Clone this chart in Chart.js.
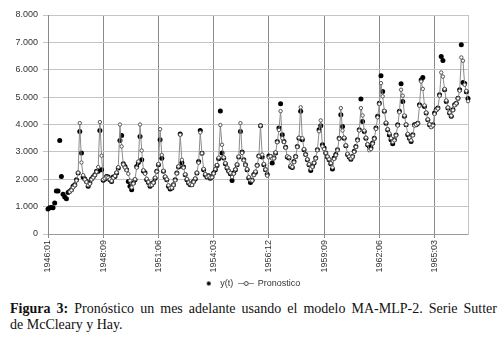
<!DOCTYPE html>
<html>
<head>
<meta charset="utf-8">
<script src="https://cdn.jsdelivr.net/npm/chart.js@4.4.0/dist/chart.umd.min.js"></script>
<style>
  body { margin: 0; background: #fff; }
  #wrap { position: relative; width: 502px; height: 342px; }
  #grafico { position: absolute; left: 0; top: 0; }
  .pie { position: absolute; left: 10px; width: 487px; font-family: "Liberation Serif", serif; font-size: 14px; line-height: 16px; color: #111; white-space: nowrap; }
  #linea1 { top: 301px; text-align: justify; text-align-last: justify; }
  #linea2 { top: 317px; }
</style>
</head>
<body>
<div id="wrap">
  <canvas id="grafico" width="502" height="298"></canvas>
  <div class="pie" id="linea1"><b>Figura 3:</b> Pronóstico un mes adelante usando el modelo MA-MLP-2. Serie Sutter</div>
  <div class="pie" id="linea2">de McCleary y Hay.</div>
</div>
<script>
// etiquetas del eje x (una cada 33 meses)
const tickLabels = ["1946:01", "1948:09", "1951:06", "1954:03", "1956:12", "1959:09", "1962:06", "1965:03"];

// serie observada y(t), 1946-1966 mensual
const serieY = [
  910, 960, 970, 960, 1130, 1570, 1570, 3420, 2100, 1450, 1350, 1290,
  1520, 1560, 1620, 1740, 1800, 1980, 2230, 3745, 2960, 2080, 2010, 1920,
  1740, 1860, 2010, 2080, 2165, 2290, 2290, 3780, 2350, 1960, 2010, 2100,
  2080, 1980, 1920, 2080, 2100, 2230, 2410, 3420, 3600, 2570, 2470, 2350,
  1920, 1740, 1620, 1860, 1980, 2470, 2610, 3560, 2710, 2300, 2240, 1980,
  1885, 1740, 1800, 1885, 2040, 2290, 2530, 3440, 2770, 2290, 2080, 1980,
  1740, 1640, 1680, 1800, 1980, 2230, 2445, 3650, 2600, 2445, 2165, 1980,
  1860, 1800, 1800, 1920, 2010, 2230, 2650, 3780, 2950, 2350, 2165, 2080,
  2130, 2040, 2080, 2230, 2350, 2500, 2750, 4490, 2955, 2775, 2570, 2410,
  2290, 2200, 1950, 2230, 2350, 2530, 2810, 3745, 3000, 2710, 2530, 2350,
  2045, 1880, 1960, 2170, 2260, 2510, 2850, 3950, 2810, 2530, 2350, 2170,
  2850, 2830, 2590, 2775, 2955, 3380, 3870, 4760, 3625, 3380, 3170, 2810,
  2775, 2470, 2430, 2650, 2835, 3200, 3500, 4480, 3440, 3080, 2900, 2710,
  2530, 2320, 2470, 2590, 2775, 3080, 3810, 3950, 3260, 3140, 2955, 2810,
  2710, 2570, 2370, 2775, 2900, 3080, 3500, 4355, 3930, 3500, 3225, 2900,
  2810, 2735, 2835, 3020, 3200, 3440, 3810, 4930, 4110, 3745, 3500, 3260,
  3200, 3140, 3320, 3500, 3870, 4300, 4780, 5780, 5210, 4480, 4050, 3810,
  3620, 3440, 3300, 3440, 3620, 3990, 4480, 5490, 4840, 4300, 3990, 3625,
  3500, 3380, 3625, 3990, 3990, 4050, 4720, 5630, 5720, 4660, 4420, 4170,
  3990, 3930, 3990, 4420, 4540, 4600, 5085, 6480, 6340, 5270, 4840, 4600,
  4420, 4300, 4540, 4720, 4780, 4960, 5270, 6910, 5530, 5500, 5200, 4950
];

// pronostico del modelo (empieza en 1947:02)
const pronostico = [
  null, null, null, null, null, null, null, null, null, null, null, null,
  null, 1540, 1600, 1700, 1780, 1950, 2240, 4050, 2610, 2150, 1990, 1900,
  1780, 1830, 1990, 2060, 2150, 2270, 2445, 4090, 2860, 1990, 2030, 2080,
  2060, 2000, 1940, 2050, 2120, 2250, 2440, 4000, 3200, 2540, 2430, 2330,
  2200, 1950, 1700, 1840, 2000, 2420, 2650, 4000, 3050, 2330, 2200, 2020,
  1900, 1780, 1790, 1870, 2060, 2280, 2560, 3830, 2890, 2310, 2100, 2000,
  1780, 1680, 1690, 1790, 1960, 2210, 2470, 3625, 2710, 2420, 2180, 2010,
  1880, 1820, 1790, 1900, 2030, 2240, 2600, 3710, 2950, 2380, 2190, 2090,
  2110, 2060, 2070, 2210, 2370, 2520, 2790, 3980, 3260, 2800, 2590, 2430,
  2300, 2230, 2080, 2200, 2360, 2540, 2830, 4050, 2960, 2690, 2520, 2370,
  2080, 1960, 1950, 2150, 2280, 2500, 2840, 3960, 2900, 2560, 2360, 2130,
  2800, 2840, 2750, 2760, 2980, 3350, 3800, 4490, 3500, 3360, 3150, 2840,
  2800, 2500, 2450, 2620, 2820, 3180, 3520, 4630, 3500, 3100, 2900, 2730,
  2550, 2380, 2450, 2600, 2760, 3060, 3750, 4150, 3200, 3100, 2960, 2830,
  2730, 2590, 2430, 2740, 2880, 3060, 3480, 4600, 3780, 3520, 3240, 2930,
  2830, 2760, 2820, 3000, 3180, 3420, 3780, 4600, 4330, 3780, 3520, 3280,
  3060, 3100, 3300, 3480, 3840, 4260, 4750, 5510, 5030, 4500, 4070, 3830,
  3680, 3500, 3360, 3420, 3600, 3960, 4450, 5270, 5050, 4330, 4000, 3660,
  3520, 3420, 3600, 3960, 3990, 4040, 4680, 5570, 5300, 4700, 4440, 4190,
  4010, 3900, 3960, 4380, 4520, 4580, 5050, 5900, 5750, 5300, 4880, 4620,
  4440, 4320, 4520, 4700, 4770, 4950, 5230, 6450, 6330, 5450, 5230, 4850
];

// categorias: un mes por dato
const meses = [];
for (let a = 1946; a <= 1966; a++) {
  for (let m = 1; m <= 12; m++) meses.push(a + ":" + String(m).padStart(2, "0"));
}

// simbolos de la leyenda
function simboloPunto() {
  const c = document.createElement("canvas");
  c.width = 6; c.height = 6;
  const g = c.getContext("2d");
  g.fillStyle = "#000";
  g.beginPath(); g.arc(3, 3, 2, 0, Math.PI * 2); g.fill();
  return c;
}
function simboloLinea() {
  const c = document.createElement("canvas");
  c.width = 16; c.height = 7;
  const g = c.getContext("2d");
  g.strokeStyle = "#8c8c8c"; g.lineWidth = 1;
  g.beginPath(); g.moveTo(0, 3.5); g.lineTo(16, 3.5); g.stroke();
  g.fillStyle = "#fff"; g.strokeStyle = "#444";
  g.beginPath(); g.arc(8, 3.5, 2, 0, Math.PI * 2); g.fill(); g.stroke();
  return c;
}
const iconos = [simboloPunto(), simboloLinea()];

const fuenteEjes = { family: "Liberation Sans", size: 9 };

const chart = new Chart(document.getElementById("grafico"), {
  type: "line",
  data: {
    labels: meses,
    datasets: [{
      label: "y(t)",
      data: serieY,
      showLine: false,
      pointRadius: 2.5,
      pointBorderWidth: 0,
      pointBackgroundColor: "#000",
      pointBorderColor: "#000",
      order: 1
    }, {
      label: "Pronostico",
      data: pronostico,
      borderColor: "#8c8c8c",
      borderWidth: 1,
      pointRadius: 1.7,
      pointBorderWidth: 1,
      pointBackgroundColor: "#fff",
      pointBorderColor: "#555",
      tension: 0,
      spanGaps: false,
      order: 0
    }]
  },
  options: {
    responsive: false,
    animation: false,
    layout: { padding: { top: 15, left: 0, right: 0, bottom: 0 } },
    plugins: {
      tooltip: { enabled: false },
      legend: {
        position: "bottom",
        labels: {
          usePointStyle: true,
          pointStyleWidth: 14,
          padding: 6,
          color: "#333",
          font: fuenteEjes,
          sort: (a, b) => a.datasetIndex - b.datasetIndex,
          generateLabels: (ch) => ch.data.datasets.map((ds, i) => ({
            text: ds.label,
            pointStyle: iconos[i],
            fillStyle: "#000",
            strokeStyle: "#000",
            lineWidth: 0,
            hidden: false,
            datasetIndex: i,
            fontColor: "#333"
          }))
        }
      }
    },
    scales: {
      x: {
        type: "category",
        afterFit: (s) => { s.height = 39; },
        afterBuildTicks: (s) => { s.ticks = s.ticks.filter(t => t.value % 33 === 0); },
        grid: { color: "#8a8a8a", lineWidth: 1, tickLength: 4 },
        border: { color: "#9a9a9a" },
        ticks: {
          autoSkip: false,
          minRotation: 90,
          maxRotation: 90,
          padding: 2,
          color: "#333",
          font: fuenteEjes,
          callback: (v) => tickLabels[v / 33]
        }
      },
      y: {
        min: 0,
        max: 8000,
        afterFit: (s) => { s.width = 48; },
        grid: { color: "#c4c4c4", lineWidth: 1, tickLength: 5 },
        border: { color: "#8a8a8a" },
        ticks: {
          stepSize: 1000,
          padding: 5,
          color: "#333",
          font: fuenteEjes,
          callback: (v) => v === 0 ? "0" : (v / 1000) + ".000"
        }
      },
      y2: {
        position: "right",
        min: 0,
        max: 8000,
        afterFit: (s) => { s.width = 34; },
        grid: { drawOnChartArea: false, drawTicks: false },
        border: { color: "#c4c4c4" },
        ticks: { display: false }
      }
    }
  }
});
</script>
</body>
</html>
